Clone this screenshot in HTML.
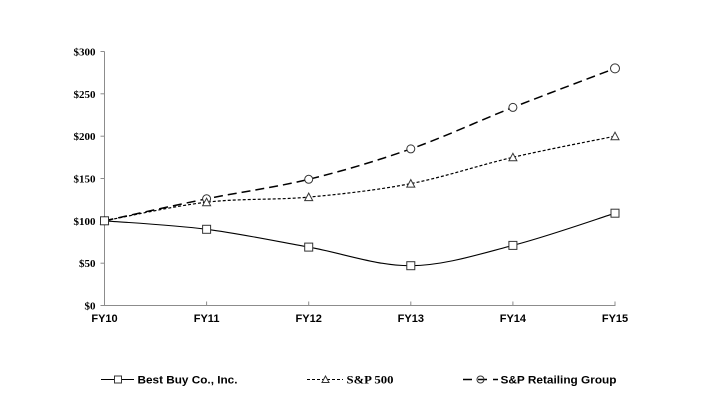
<!DOCTYPE html>
<html>
<head>
<meta charset="utf-8">
<style>
  html,body{margin:0;padding:0;background:#fff;}
  svg{display:block;}
  .yl{font-family:"Liberation Serif",serif;font-weight:bold;font-size:11px;fill:#000;}
  .xl{font-family:"Liberation Sans",sans-serif;font-weight:bold;font-size:11px;fill:#000;}
  .lg{font-family:"Liberation Sans",sans-serif;font-weight:bold;font-size:11px;fill:#000;}
  .lgs{font-family:"Liberation Serif",serif;font-weight:bold;font-size:12px;fill:#000;}
</style>
</head>
<body>
<svg width="707" height="415" viewBox="0 0 707 415" xmlns="http://www.w3.org/2000/svg">
  <rect width="707" height="415" fill="#fff"/>

  <!-- axes -->
  <g stroke="#8c8c8c" stroke-width="1" fill="none">
    <line x1="104.5" y1="51.5" x2="104.5" y2="305.5"/>
    <line x1="104.5" y1="305.5" x2="615.5" y2="305.5"/>
    <!-- y ticks -->
    <line x1="100.5" y1="51.5" x2="104.5" y2="51.5"/>
    <line x1="100.5" y1="93.8" x2="104.5" y2="93.8"/>
    <line x1="100.5" y1="136.2" x2="104.5" y2="136.2"/>
    <line x1="100.5" y1="178.5" x2="104.5" y2="178.5"/>
    <line x1="100.5" y1="220.8" x2="104.5" y2="220.8"/>
    <line x1="100.5" y1="263.2" x2="104.5" y2="263.2"/>
    <line x1="100.5" y1="305.5" x2="104.5" y2="305.5"/>
    <!-- x ticks -->
    <line x1="206.6" y1="301.5" x2="206.6" y2="305.5"/>
    <line x1="308.7" y1="301.5" x2="308.7" y2="305.5"/>
    <line x1="410.8" y1="301.5" x2="410.8" y2="305.5"/>
    <line x1="512.9" y1="301.5" x2="512.9" y2="305.5"/>
    <line x1="615" y1="301.5" x2="615" y2="305.5"/>
  </g>

  <!-- y labels -->
  <g class="yl" text-anchor="end">
    <text x="95.5" y="55.5">$300</text>
    <text x="95.5" y="97.8">$250</text>
    <text x="95.5" y="140.2">$200</text>
    <text x="95.5" y="182.5">$150</text>
    <text x="95.5" y="224.8">$100</text>
    <text x="95.5" y="267.2">$50</text>
    <text x="95.5" y="309.5">$0</text>
  </g>

  <!-- x labels -->
  <g class="xl" text-anchor="middle">
    <text x="104.5" y="322">FY10</text>
    <text x="206.6" y="322">FY11</text>
    <text x="308.7" y="322">FY12</text>
    <text x="410.8" y="322">FY13</text>
    <text x="512.9" y="322">FY14</text>
    <text x="615" y="322">FY15</text>
  </g>

  <!-- Retailing (long dash) -->
  <path d="M104.5,220.8 C121.5,217.1 172.6,205.7 206.6,198.8 C240.6,191.9 274.7,187.6 308.7,179.3 C342.7,171.0 376.8,160.9 410.8,148.9 C444.8,136.9 478.9,120.8 512.9,107.4 C546.9,94.0 598,74.9 615,68.4"
        fill="none" stroke="#000" stroke-width="1.5" stroke-dasharray="9,5"/>
  <!-- S&P 500 (short dash) -->
  <path d="M104.5,220.8 C121.5,217.7 172.6,206.15 206.6,202.2 C240.6,198.25 274.7,200.2 308.7,197.1 C342.7,194.0 376.8,190.2 410.8,183.6 C444.8,177.0 478.9,165.2 512.9,157.3 C546.9,149.4 598,139.7 615,136.2"
        fill="none" stroke="#000" stroke-width="1.2" stroke-dasharray="3,2"/>
  <!-- Best Buy (solid) -->
  <path d="M104.5,220.8 C121.5,222.2 172.6,224.9 206.6,229.3 C240.6,233.7 274.7,241.0 308.7,247.1 C342.7,253.2 376.8,266.0 410.8,265.7 C444.8,265.4 478.9,254.2 512.9,245.4 C546.9,236.65 598,218.6 615,213.2"
        fill="none" stroke="#000" stroke-width="1.1"/>

  <!-- Retailing markers -->
  <g fill="#fff" stroke="#333" stroke-width="1">
    <circle cx="104.5" cy="220.8" r="4"/>
    <circle cx="206.6" cy="198.8" r="4"/>
    <circle cx="308.7" cy="179.3" r="4"/>
    <circle cx="410.8" cy="148.9" r="4"/>
    <circle cx="512.9" cy="107.4" r="4"/>
    <circle cx="615" cy="68.4" r="4.5"/>
  </g>
  <!-- S&P 500 markers (triangles) -->
  <g fill="#fff" stroke="#333" stroke-width="1">
    <polygon points="104.5,216.8 100.5,224.3 108.5,224.3"/>
    <polygon points="206.6,198.2 202.6,205.7 210.6,205.7"/>
    <polygon points="308.7,193.1 304.7,200.6 312.7,200.6"/>
    <polygon points="410.8,179.6 406.8,187.1 414.8,187.1"/>
    <polygon points="512.9,153.3 508.9,160.8 516.9,160.8"/>
    <polygon points="615,132.2 611,139.7 619,139.7"/>
  </g>
  <!-- Best Buy markers (squares) -->
  <g fill="#fff" stroke="#333" stroke-width="1">
    <rect x="100.5" y="216.8" width="8" height="8"/>
    <rect x="202.6" y="225.3" width="8" height="8"/>
    <rect x="304.7" y="243.1" width="8" height="8"/>
    <rect x="406.8" y="261.7" width="8" height="8"/>
    <rect x="508.9" y="241.4" width="8" height="8"/>
    <rect x="611" y="209.2" width="8" height="8"/>
  </g>

  <!-- Legend -->
  <g>
    <line x1="101" y1="379.5" x2="134" y2="379.5" stroke="#000" stroke-width="1.1"/>
    <rect x="114.5" y="376" width="7" height="7" fill="#fff" stroke="#333" stroke-width="1"/>
    <text class="lg" x="137.5" y="383.5" textLength="100" lengthAdjust="spacingAndGlyphs">Best Buy Co., Inc.</text>

    <line x1="307" y1="379.5" x2="343" y2="379.5" stroke="#000" stroke-width="1.1" stroke-dasharray="3,2"/>
    <polygon points="325.5,376 322,382.5 329,382.5" fill="#fff" stroke="#333" stroke-width="1"/>
    <text class="lgs" x="346.5" y="383.5" textLength="47" lengthAdjust="spacingAndGlyphs">S&amp;P 500</text>

    <line x1="463" y1="379.5" x2="498" y2="379.5" stroke="#000" stroke-width="1.5" stroke-dasharray="9,6"/>
    <circle cx="480.5" cy="379.5" r="3.5" fill="none" stroke="#333" stroke-width="1"/>
    <text class="lg" x="500.5" y="383.5" textLength="116" lengthAdjust="spacingAndGlyphs">S&amp;P Retailing Group</text>
  </g>
</svg>
</body>
</html>
